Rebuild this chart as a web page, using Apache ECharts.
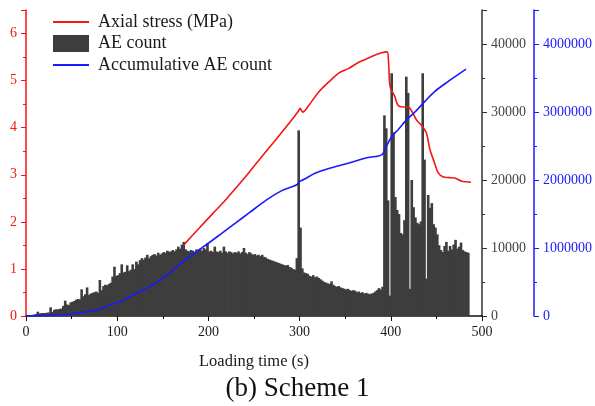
<!DOCTYPE html>
<html>
<head>
<meta charset="utf-8">
<script src="https://cdn.jsdelivr.net/npm/echarts@6/dist/echarts.min.js"></script>
<style>html,body{margin:0;padding:0;background:#fff;}#c{width:595px;height:406px;}</style>
</head>
<body>
<div id="c"></div>
<script>
// ---- Data ----
const xTicks = [0, 100, 200, 300, 400, 500];
const aeStart = 1, aeStep = 2; // AE count bins (s)
const aeCount = [
  60, 90, 130, 160, 220,
  300, 630, 380, 420, 450,
  430, 480, 520, 1280, 600,
  900, 1000, 950, 1050, 1100,
  1500, 2250, 1700, 1600, 2000,
  2100, 2200, 2400, 2500, 2450,
  3920, 2900, 3200, 4200, 3100,
  3300, 3400, 3500, 3600, 3400,
  5300, 3800, 4400, 4600, 4500,
  4700, 4900, 5800, 7250, 5900,
  6000, 6300, 7600, 6400, 6500,
  7450, 6600, 6800, 7600, 6900,
  8000, 7600, 8200, 8500, 8300,
  8600, 9000, 8500, 8800, 9000,
  9100, 8900, 9300, 9000, 9200,
  9400, 9300, 9600, 9450, 9500,
  9700, 9500, 9800, 10200, 9900,
  10500, 10900, 9800, 9600, 9500,
  9700, 9600, 9400, 9800, 9700,
  9900, 9600, 10000, 9800, 10700,
  9500, 9600, 9400, 10200, 9500,
  9400, 9600, 9300, 10200, 9500,
  9300, 9500, 9400, 9200, 9400,
  9300, 9500, 9200, 9400, 10000,
  9300, 9100, 9400, 9200, 9000,
  9100, 8900, 9000, 8800, 9000,
  8700, 8600, 8400, 8300, 8200,
  8100, 8000, 7900, 7800, 7700,
  7600, 7500, 7400, 7500, 7200,
  7100, 6900, 6800, 8500, 27300,
  13000, 7000, 6400, 6300, 6200,
  5900, 5800, 6000, 5700, 5800,
  5600, 5400, 5200, 5000, 4900,
  4800, 4700, 5100, 4600, 4400,
  4300, 4400, 4200, 4100, 4000,
  3900, 4000, 3800, 3700, 3800,
  3700, 3500, 3600, 3400, 3500,
  3300, 3400, 3300, 3200, 3300,
  3400, 3600, 3800, 4100, 3900,
  4300, 29500, 27600, 17000, 3000,
  35700, 27000, 17500, 15600, 15000,
  12200, 12000, 14100, 35200, 32800,
  4000, 20000, 16000, 14500, 13700,
  13500, 13900, 35700, 23000, 5500,
  17800, 15900, 16600, 13500, 13000,
  12000, 10400, 9700, 9400, 10300,
  10900, 9600, 10300, 9800, 10500,
  11200, 9900, 10200, 10800, 9700,
  9500, 9400, 9300
];

const stressTime = [173, 190, 205, 219, 232, 245, 260, 275, 290, 299, 300.5, 303.5, 310, 321, 333, 343, 354, 363, 372, 381, 390, 396, 397.5, 398.5, 399.5, 401, 404, 408, 413, 419, 423, 428, 434.5, 439, 443, 448, 452, 457, 464, 470, 477, 483, 488];
const stressVal  = [1.51, 1.87, 2.18, 2.47, 2.76, 3.06, 3.42, 3.77, 4.13, 4.36, 4.41, 4.33, 4.47, 4.76, 4.99, 5.16, 5.26, 5.37, 5.45, 5.53, 5.59, 5.61, 5.40, 5.00, 4.85, 4.78, 4.68, 4.47, 4.44, 4.44, 4.35, 4.17, 4.03, 3.89, 3.53, 3.25, 3.04, 2.96, 2.94, 2.93, 2.87, 2.85, 2.84];

const cumTime = [0, 20, 40, 50, 66, 80, 92, 104, 113.5, 126, 138.6, 150, 160, 172, 185, 200, 215, 230, 245, 263, 280, 297, 299.5, 305, 317, 335, 354, 375, 390, 395, 401, 408, 417, 426.5, 435.6, 448, 463, 482.5];
const cumVal  = [0, 5000, 20000, 30000, 63000, 100000, 160000, 220000, 280000, 370000, 456000, 560000, 660000, 800000, 930000, 1070000, 1220000, 1370000, 1520000, 1700000, 1840000, 1930000, 1975000, 2010000, 2100000, 2180000, 2250000, 2330000, 2370000, 2490000, 2640000, 2740000, 2880000, 3000000, 3130000, 3300000, 3450000, 3630000];

const names = ['Axial stress (MPa)', 'AE count', 'Accumulative AE count'];

// ---- Build chart ----
const FONT = "'Liberation Serif', 'Times New Roman', serif";
const RED = '#f51515', BLUE = '#1a1aff', DARK = '#3d3d3d';
const LINE_ICON = 'path://M0,0H36V1.8H0Z';
const chart = echarts.init(document.getElementById('c'), null, {renderer: 'canvas'});

function pairs(xs, ys) { return xs.map((x, i) => [x, ys[i]]); }
const aeData = aeCount.map((v, i) => [aeStart + i * aeStep, v]);

chart.setOption({
  animation: false,
  backgroundColor: '#fff',
  title: {
    text: '(b) Scheme 1', left: 'center', top: 370,
    textStyle: {fontFamily: FONT, fontSize: 27, fontWeight: 'normal', color: '#111'}
  },
  legend: {
    orient: 'vertical', left: 53, top: 13, padding: 0,
    itemWidth: 36, itemHeight: 17, itemGap: 3.5, symbolKeepAspect: true,
    textStyle: {fontFamily: FONT, fontSize: 18, lineHeight: 17, color: '#1a1a1a', padding: [0, 0, 0, 4]},
    data: [
      {name: names[0], icon: LINE_ICON, itemStyle: {color: RED}},
      {name: names[1], icon: 'rect', itemStyle: {color: DARK}},
      {name: names[2], icon: LINE_ICON, itemStyle: {color: BLUE}}
    ]
  },
  grid: {left: 26, right: 111, top: 10, bottom: 90},
  xAxis: {
    type: 'value', min: xTicks[0], max: xTicks[xTicks.length - 1], interval: 100,
    name: 'Loading time (s)', nameLocation: 'middle', nameGap: 37,
    nameTextStyle: {fontFamily: FONT, fontSize: 16.5, color: '#1a1a1a'},
    axisLine: {lineStyle: {color: '#111', width: 1.5}},
    axisTick: {length: 5, lineStyle: {color: '#111'}},
    minorTick: {show: true, splitNumber: 2, length: 3, lineStyle: {color: '#111'}},
    splitLine: {show: false},
    axisLabel: {fontFamily: FONT, fontSize: 14, color: '#1a1a1a', margin: 9}
  },
  yAxis: [
    {
      type: 'value', position: 'left', min: 0, max: 6.5, interval: 1,
      axisLine: {show: true, lineStyle: {color: RED, width: 1.5}},
      axisTick: {show: true, length: 5, lineStyle: {color: RED}},
      minorTick: {show: true, splitNumber: 2, length: 3, lineStyle: {color: RED}},
      splitLine: {show: false},
      axisLabel: {fontFamily: FONT, fontSize: 14, color: RED, margin: 9,
        formatter: v => Number.isInteger(v) ? String(v) : ''}
    },
    {
      type: 'value', position: 'right', min: 0, max: 45000, interval: 10000,
      axisLine: {show: true, lineStyle: {color: '#333', width: 1.5}},
      axisTick: {show: true, length: 5, lineStyle: {color: '#333'}},
      minorTick: {show: true, splitNumber: 2, length: 3, lineStyle: {color: '#333'}},
      splitLine: {show: false},
      axisLabel: {fontFamily: FONT, fontSize: 14, color: '#444', margin: 9,
        formatter: v => v % 10000 === 0 ? String(v) : ''}
    },
    {
      type: 'value', position: 'right', offset: 52, min: 0, max: 4500000, interval: 1000000,
      axisLine: {show: true, lineStyle: {color: BLUE, width: 1.5}},
      axisTick: {show: true, length: 5, lineStyle: {color: BLUE}},
      minorTick: {show: true, splitNumber: 2, length: 3, lineStyle: {color: BLUE}},
      splitLine: {show: false},
      axisLabel: {fontFamily: FONT, fontSize: 14, color: BLUE, margin: 9,
        formatter: v => v % 1000000 === 0 ? String(v) : ''}
    }
  ],
  series: [
    {
      name: names[0], type: 'line', yAxisIndex: 0, z: 4,
      symbol: 'none', smooth: 0.3,
      lineStyle: {color: RED, width: 1.6}, itemStyle: {color: RED},
      data: pairs(stressTime, stressVal)
    },
    {
      name: names[1], type: 'bar', yAxisIndex: 1, z: 2,
      barWidth: 2.6, itemStyle: {color: DARK},
      data: aeData
    },
    {
      name: names[2], type: 'line', yAxisIndex: 2, z: 4,
      symbol: 'none', smooth: 0.3,
      lineStyle: {color: BLUE, width: 1.6}, itemStyle: {color: BLUE},
      data: pairs(cumTime, cumVal)
    }
  ]
});
</script>
</body>
</html>
